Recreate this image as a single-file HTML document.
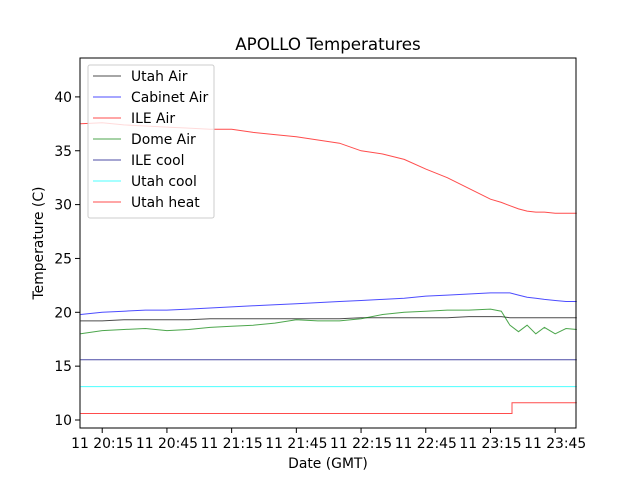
<!DOCTYPE html>
<html><head><meta charset="utf-8"><style>
body{margin:0;background:#fff}
svg{font-family:"DejaVu Sans","Liberation Sans",sans-serif}
</style></head><body>
<svg id="chart" width="640" height="480" xmlns="http://www.w3.org/2000/svg">
<rect width="640" height="480" fill="#fff"/>
<text x="328" y="50" font-size="16.7" text-anchor="middle">APOLLO Temperatures</text>
<g id="plot"></g>
<rect x="80" y="58" width="496" height="370" fill="none" stroke="#000" stroke-width="1"/>
<g id="axes"></g>
<text x="328" y="468" font-size="13.9" text-anchor="middle">Date (GMT)</text>
<text transform="translate(43,243) rotate(-90)" font-size="13.9" text-anchor="middle">Temperature (C)</text>
<g id="legend"></g>
</svg>
<script>
const times=[5,15,25,35,45,55,65,75,85,95,105,115,125,135,145,155,165,175,185,195,200,204,208,212,216,220,225,230,235];
const ileAir=[37.5,37.6,37.4,37.3,37.2,37.1,37.0,37.0,36.7,36.5,36.3,36.0,35.7,35.0,34.7,34.2,33.3,32.5,31.5,30.5,30.2,29.9,29.6,29.4,29.3,29.3,29.2,29.2,29.2];
const cabinetAir=[19.8,20.0,20.1,20.2,20.2,20.3,20.4,20.5,20.6,20.7,20.8,20.9,21.0,21.1,21.2,21.3,21.5,21.6,21.7,21.8,21.8,21.8,21.6,21.4,21.3,21.2,21.1,21.0,21.0];
const domeAir=[18.0,18.3,18.4,18.5,18.3,18.4,18.6,18.7,18.8,19.0,19.3,19.2,19.2,19.4,19.8,20.0,20.1,20.2,20.2,20.3,20.1,18.8,18.2,18.8,18.0,18.6,18.0,18.5,18.4];
const utahAir=[19.2,19.2,19.3,19.3,19.3,19.3,19.4,19.4,19.4,19.4,19.4,19.4,19.4,19.5,19.5,19.5,19.5,19.5,19.6,19.6,19.6,19.5,19.5,19.5,19.5,19.5,19.5,19.5,19.5];
const ileCool=[15.6,15.6,15.6,15.6,15.6,15.6,15.6,15.6,15.6,15.6,15.6,15.6,15.6,15.6,15.6,15.6,15.6,15.6,15.6,15.6,15.6,15.6,15.6,15.6,15.6,15.6,15.6,15.6,15.6];
const utahCool=[13.1,13.1,13.1,13.1,13.1,13.1,13.1,13.1,13.1,13.1,13.1,13.1,13.1,13.1,13.1,13.1,13.1,13.1,13.1,13.1,13.1,13.1,13.1,13.1,13.1,13.1,13.1,13.1,13.1];
const utahHeatTimes=[5,205,205,235];
const utahHeat=[10.6,10.6,11.6,11.6];
const yTicks=[10,15,20,25,30,35,40];
const xTickTimes=[15,45,75,105,135,165,195,225];
const xTickLabels=["11 20:15","11 20:45","11 21:15","11 21:45","11 22:15","11 22:45","11 23:15","11 23:45"];
const seriesNames=["Utah Air","Cabinet Air","ILE Air","Dome Air","ILE cool","Utah cool","Utah heat"];

const NS="http://www.w3.org/2000/svg";
function xs(t){return 80+(t-4.7)*2.157;}
function ys(v){return 420-(v-10)*10.77;}
function mk(tag,attrs,parent){const e=document.createElementNS(NS,tag);for(const k in attrs)e.setAttribute(k,attrs[k]);parent.appendChild(e);return e;}
const plot=document.getElementById('plot');
const series=[
 {name:"utah-air-line",t:times,v:utahAir,c:"#000",o:0.7},
 {name:"cabinet-air-line",t:times,v:cabinetAir,c:"#0000ff",o:0.7},
 {name:"ile-air-line",t:times,v:ileAir,c:"#ff0000",o:0.7},
 {name:"dome-air-line",t:times,v:domeAir,c:"#008000",o:0.7},
 {name:"ile-cool-line",t:times,v:ileCool,c:"#000080",o:0.7},
 {name:"utah-cool-line",t:times,v:utahCool,c:"#00ffff",o:0.7},
 {name:"utah-heat-line",t:utahHeatTimes,v:utahHeat,c:"#ff0000",o:0.7}
];
series.forEach(s=>{
 const pts=s.t.map((t,i)=>xs(Math.min(t,235.7)).toFixed(1)+","+ys(s.v[i]).toFixed(1)).join(" ");
 const p=mk('polyline',{points:pts,fill:"none",stroke:s.c,"stroke-width":1,"stroke-opacity":s.o},plot);
 
 
});
const axes=document.getElementById('axes');
yTicks.forEach(v=>{
 const y=ys(v);
 const l=mk('line',{x1:75,x2:80,y1:y,y2:y,stroke:"#000"},axes);
 
 
 const tx=mk('text',{x:72,y:y+5,"font-size":13.9,"text-anchor":"end"},axes);
 tx.textContent=v;
 
 
});
xTickTimes.forEach((t,i)=>{
 const x=xs(t);
 const l=mk('line',{x1:x,x2:x,y1:428,y2:433,stroke:"#000"},axes);
 
 
 const tx=mk('text',{x:x,y:448,"font-size":13.9,"text-anchor":"middle"},axes);
 tx.textContent=xTickLabels[i];
 
 
});
const lg=document.getElementById('legend');
const box=mk('rect',{x:88,y:65,width:126,height:153,rx:2,fill:"#fff","fill-opacity":0.8,stroke:"#ccc"},lg);


seriesNames.forEach((n,i)=>{
 const y=76+i*21;
 const g=mk('g',{},lg);
 
 
 mk('line',{x1:93,x2:121,y1:y,y2:y,stroke:series[i].c,"stroke-opacity":0.7},g);
 const tx=mk('text',{x:131,y:y+5,"font-size":13.9},g);
 tx.textContent=n;
});
</script>
</body></html>
